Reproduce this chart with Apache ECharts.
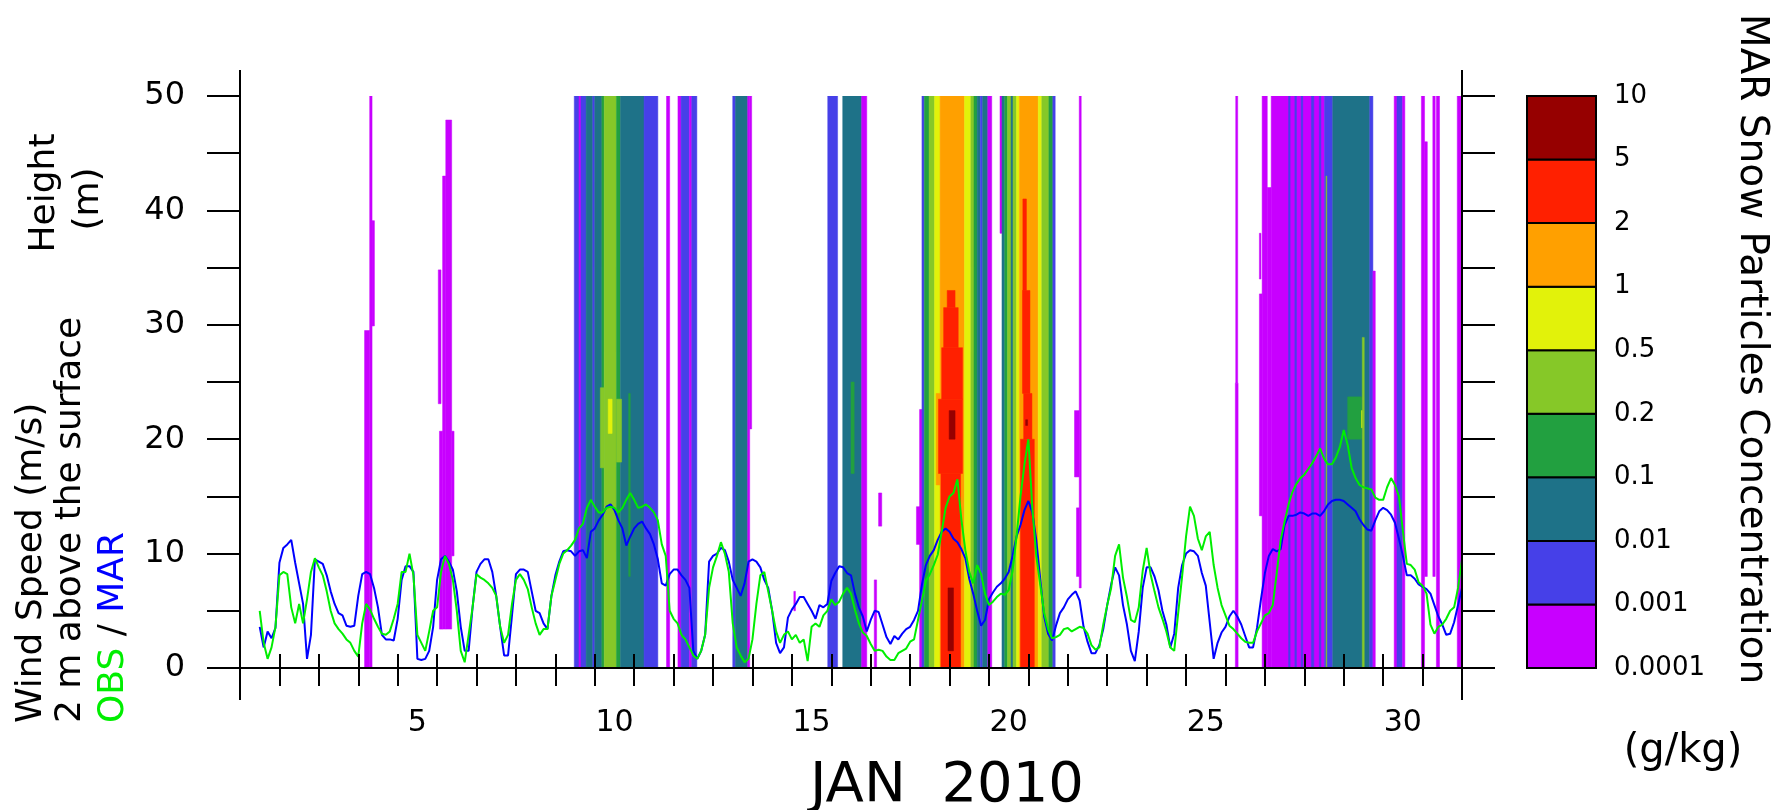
<!DOCTYPE html>
<html><head><meta charset="utf-8">
<script src="https://cdn.jsdelivr.net/npm/echarts@6/dist/echarts.min.js"></script>
<style>html,body{margin:0;padding:0;background:#fff}#c{width:1784px;height:810px}</style>
</head><body><div id="c"></div>
<script>
// ================= DATA =================
const dayCategories = ['1','2','3','4','5','6','7','8','9','10','11','12','13','14','15','16','17','18','19','20','21','22','23','24','25','26','27','28','29','30','31'];
const levelLabels = ['0.0001','0.001','0.01','0.1','0.2','0.5','1','2','5','10'];
// snow concentration cells: [dayStart, dayEnd, heightBottom, heightTop, levelIndex]
const snowCells = [
  [4.16,4.29,0,29.5,0],[4.29,4.35,0,50,0],[4.35,4.41,29.9,39.1,0],
  [6.03,6.10,23.1,34.8,0],[6.06,6.14,3.4,20.7,0],[6.14,6.22,3.4,43.0,0],[6.22,6.37,3.4,47.9,0],[6.37,6.43,9.8,20.7,0],
  [9.48,9.60,0,50,1],[9.60,9.65,0,50,0],[9.65,9.78,0,50,1],[9.78,9.95,0,50,2],[9.95,10.00,0,50,1],[10.00,10.18,0,50,2],
  [10.18,10.24,0,50,3],[10.24,10.55,0,50,4],[10.55,10.65,0,50,3],[10.65,11.25,0,50,2],[11.25,11.60,0,50,1],
  [10.14,10.24,17.5,24.5,4],[10.55,10.68,18,23.5,4],[10.34,10.44,20.5,23.5,5],[10.86,10.90,8,24,3],
  [11.82,11.90,0,50,0],[12.11,12.19,0,50,0],[12.19,12.40,0,50,1],[12.40,12.46,0,50,0],[12.46,12.59,0,50,1],
  [13.50,13.57,0,50,1],[13.57,13.88,0,50,2],[13.88,13.93,0,50,0],[13.93,13.98,20.9,50,0],[15.05,15.09,5.0,6.7,0],
  [15.91,16.16,0,50,1],[16.29,16.77,0,50,2],[16.50,16.58,17,25,3],[16.77,16.90,0,50,0],[17.09,17.15,0,7.7,0],[17.20,17.28,12.4,15.3,0],
  [18.16,18.30,10.8,14.1,0],[18.24,18.30,0,22.6,0],[18.30,18.36,0,50,1],[18.36,18.48,0,50,3],[18.48,18.62,0,50,4],
  [18.62,18.76,0,50,5],[18.76,19.38,0,50,6],[19.38,19.54,0,50,5],[19.54,19.62,0,50,4],[19.62,19.70,0,50,3],
  [19.70,19.78,0,50,2],[19.78,19.84,0,50,1],[19.84,19.97,0,50,2],[19.97,20.07,0,50,0],
  [18.66,18.76,16,24,6],[18.72,19.33,17,23.5,7],[18.78,19.28,0,17,7],[18.80,19.33,23.5,28,7],[18.85,19.22,28,31.5,7],
  [18.94,19.14,31.5,33,7],[18.99,19.14,20,22.5,8],[18.96,19.10,1.5,7,8],
  [20.28,20.36,38,50,0],[20.33,20.40,0,50,2],[20.40,20.47,0,50,3],[20.47,20.56,0,50,4],[20.56,20.61,0,50,2],
  [20.61,20.70,0,50,4],[20.70,20.77,0,50,5],[20.77,21.25,0,50,6],[21.25,21.34,0,50,5],[21.34,21.52,0,50,4],
  [21.52,21.62,0,50,3],[21.62,21.68,0,50,1],
  [20.80,21.15,0,20,7],[20.88,21.09,20,24,7],[20.85,21.04,24,33,7],[20.86,20.95,33,41,7],[20.93,20.98,21.2,21.7,8],
  [22.29,22.34,7,50,0],[22.17,22.29,16.7,22.5,0],[22.22,22.29,8,14,0],
  [26.25,26.32,0,24.9,0],[26.26,26.31,24.9,50,0],
  [26.86,26.93,13.3,32.7,0],[26.86,26.90,34,38,0],[26.93,27.06,0,50,0],[27.06,27.16,0,42,0],[27.16,28.51,0,50,0],
  [27.60,27.64,0,50,1],[27.76,27.80,0,50,1],[27.92,27.96,0,50,1],[28.18,28.24,0,50,1],[28.38,28.42,0,50,1],
  [28.51,28.72,0,50,1],[28.72,29.66,0,50,2],[28.55,28.57,0,43,4],[29.10,29.45,20,23.7,3],[29.45,29.48,21,22.5,5],
  [29.47,29.52,0,28.9,4],[29.66,29.74,0,50,1],[29.74,29.80,0,34.7,0],
  [30.28,30.35,0,50,0],[30.35,30.49,0,50,1],[30.49,30.55,0,50,0],
  [30.97,31.05,0,50,0],[31.05,31.12,8,46,0],[31.26,31.32,8,50,0],[31.35,31.43,0,50,0],[31.88,32.00,0,50,0]
];
// wind speed (m/s), sampled every 0.1 day from Jan 1.5
const windStart = 1.5;
const windStep = 0.1;
const marSpeed = [
  3.6,1.8,3.2,2.6,3.5,
  9.2,10.5,10.8,11.2,9.2,7.4,5.6,0.8,2.9,9.5,9.3,9.1,8.1,6.7,5.6,4.8,4.6,3.7,3.6,3.7,6.3,8.2,8.4,8.2,7.0,5.3,2.9,2.5,2.5,2.4,4.3,7.7,8.9,8.9,8.4,
  0.8,0.7,0.8,1.5,3.6,7.7,9.5,9.8,9.3,8.6,6.7,3.6,1.5,1.5,5.3,8.4,9.1,9.5,9.5,8.4,6.3,3.6,1.1,1.1,4.6,8.2,8.6,8.6,8.4,6.7,5.0,4.8,3.9,3.4,
  6.3,8.1,9.3,10.2,10.3,10.2,9.8,10.2,10.3,9.6,11.9,12.2,12.9,13.4,14.1,14.3,13.8,12.9,12.2,10.7,11.5,12.2,12.6,12.8,12.2,11.7,10.8,9.5,7.4,7.2,8.2,8.6,8.6,8.1,7.7,
  7.0,1.5,0.8,1.5,2.9,9.3,9.8,10.0,10.5,10.3,9.3,7.7,7.0,6.3,7.4,9.3,9.5,9.3,8.8,7.7,7.0,5.0,2.2,1.3,1.8,4.4,5.1,5.6,6.2,6.2,5.6,5.0,4.3,5.5,
  5.3,5.6,
  7.6,8.3,8.9,8.8,8.3,8.1,6.5,5.3,4.5,3.2,
  4.2,5.0,4.9,3.8,2.7,2.1,2.8,2.5,3.0,3.4,
  3.6,4.2,5.0,7.3,9.0,9.8,10.3,11.2,11.9,12.2,
  11.9,11.3,11.0,10.4,9.6,7.8,6.5,5.0,3.7,4.2,
  6.0,6.6,7.1,7.4,7.8,8.4,9.8,11.5,12.5,13.8,
  14.6,13.6,11.2,7.8,4.5,3.0,2.4,3.7,4.8,5.3,
  6.0,6.4,6.7,5.9,3.6,2.3,1.3,1.3,2.0,3.4,
  5.5,7.3,8.8,8.1,5.5,3.8,1.5,0.6,3.2,7.0,
  8.8,8.8,8.0,6.8,5.0,3.8,1.8,3.0,7.0,9.0,
  10.0,10.3,10.2,9.8,8.3,7.2,4.0,0.8,2.2,3.1,
  3.6,4.5,5.0,4.5,3.8,2.8,1.8,1.8,3.5,6.0,
  8.3,9.8,10.4,10.2,10.4,12.5,13.3,13.3,13.4,13.6,
  13.5,13.3,13.5,13.5,13.3,13.7,14.3,14.6,14.7,14.7,
  14.6,14.3,14.0,13.7,13.0,12.5,12.1,12.0,12.9,13.7,
  14.0,13.8,13.4,12.7,11.3,9.8,8.1,8.1,7.8,7.3,
  7.1,6.9,6.5,5.5,4.5,3.8,2.9,3.0,4.0,5.5,
  7.0
];
const obsSpeed = [
  5.0,2.2,0.8,1.8,3.6,
  8.1,8.4,8.2,5.3,3.9,5.6,3.9,6.0,8.4,9.6,8.8,8.1,6.7,5.0,3.9,3.4,3.0,2.5,2.2,1.5,1.0,3.9,5.6,5.1,4.3,3.6,3.0,2.9,3.2,4.3,5.6,8.4,8.4,10.0,8.1,
  2.9,2.2,1.5,3.2,5.0,5.3,8.4,9.8,9.1,7.7,5.0,1.5,0.5,2.9,5.3,8.2,7.9,7.7,7.4,7.0,6.3,3.6,2.2,2.9,5.6,7.7,8.2,7.7,6.9,5.3,3.9,2.9,3.4,3.4,
  6.3,7.7,9.1,10.0,10.3,10.7,11.2,12.2,12.6,14.0,14.7,14.1,13.6,13.6,14.0,14.1,14.0,13.6,14.0,14.7,15.3,14.7,14.0,14.1,14.3,14.0,13.6,12.9,10.8,9.8,5.0,4.3,3.9,2.9,2.5,
  1.8,1.1,0.8,1.5,2.9,7.0,8.8,9.8,11.0,10.0,8.4,3.9,1.8,1.1,0.5,0.8,2.5,5.6,8.1,8.4,6.7,5.0,3.2,2.2,2.9,3.2,2.5,2.9,2.2,2.5,0.6,3.6,3.9,3.6,
  4.6,5.0,
  6.0,5.5,5.8,6.5,7.0,6.5,5.1,3.9,3.1,2.8,
  2.1,1.5,1.6,1.5,1.0,0.7,0.7,1.3,1.5,1.7,
  2.3,2.5,4.2,5.9,7.6,8.2,9.0,9.9,11.9,14.0,
  15.0,15.3,16.5,13.0,10.3,8.4,7.4,9.0,8.2,6.5,
  5.5,5.8,6.2,6.5,6.4,6.8,8.5,11.5,15.0,17.8,
  20.0,14.0,9.8,7.3,4.8,3.4,2.6,2.7,2.9,3.4,
  3.5,3.2,3.4,3.6,3.5,3.0,2.0,1.6,1.8,3.8,
  5.5,7.0,9.8,10.8,7.9,6.2,4.2,4.0,5.3,8.5,
  10.5,8.2,6.7,5.3,4.3,3.2,1.8,1.5,4.8,8.0,
  11.5,14.1,13.3,11.3,10.3,11.5,11.9,9.0,7.0,5.5,
  4.6,3.7,3.4,3.0,2.6,2.3,2.2,2.2,3.2,3.9,
  4.6,4.8,5.5,8.3,11.2,12.8,14.3,15.4,16.1,16.6,
  16.9,17.4,17.9,18.5,19.2,18.3,17.8,17.8,18.4,19.3,
  20.8,19.5,17.5,16.6,16.0,15.8,15.7,15.6,14.9,14.7,
  14.7,15.8,16.6,16.0,15.0,12.0,9.1,9.0,8.6,7.5,
  7.2,6.5,3.8,3.0,3.6,3.8,4.3,5.0,5.3,7.0,
  9.5
];

// ================= STYLE / LAYOUT =================
const LEVEL_COLORS = ['#c800ff','#4640e8','#1e7288','#22a040','#86c828','#e2f20a','#ffa000','#ff2000','#960000'];
const FONT = 'DejaVu Sans';
const G = {left: 240, top: 96, width: 1222, height: 572};
const CB = {left: 1527, top: 96, width: 69, height: 572};

const marData = marSpeed.map((v, i) => [windStart + i * windStep, v]);
const obsData = obsSpeed.map((v, i) => [windStart + i * windStep, v]);
const cbData = levelLabels.slice(0, -1).map((_, i) => [i, i + 1, i]);

function cellItem(params, api) {
  const a = api.coord([api.value(0), api.value(3)]);
  const b = api.coord([api.value(1), api.value(2)]);
  const c = LEVEL_COLORS[api.value(4)];
  return {type: 'rect', shape: {x: a[0], y: a[1], width: b[0] - a[0], height: b[1] - a[1]},
          style: {fill: c, stroke: c, lineWidth: 0.5}};
}
function cbItem(params, api) {
  const a = api.coord([0, api.value(1)]);
  const b = api.coord([1, api.value(0)]);
  return {type: 'rect', shape: {x: a[0], y: a[1], width: b[0] - a[0], height: b[1] - a[1]},
          style: {fill: LEVEL_COLORS[api.value(2)], stroke: '#000', lineWidth: 2}};
}

const chart = echarts.init(document.getElementById('c'), null, {renderer: 'canvas'});
const axisLine = {show: true, lineStyle: {color: '#000', width: 2}};
const tickStyle = {color: '#000', width: 2};

const option = {
  animation: false,
  backgroundColor: '#fff',
  grid: [
    Object.assign({containLabel: false, outerBoundsMode: 'none'}, G),
    Object.assign({containLabel: false, outerBoundsMode: 'none'}, CB)
  ],
  xAxis: [
    {type: 'category', gridIndex: 0, data: dayCategories, position: 'bottom', boundaryGap: true, z: 10,
     axisLine: axisLine, axisTick: {show: true, interval: 0, length: 18, inside: false, lineStyle: tickStyle},
     axisLabel: {interval: 0, margin: 40, fontSize: 30, fontFamily: FONT, color: '#000',
                 formatter: v => (Number(v) % 5 === 0 ? v : '')},
     splitLine: {show: false}},
    {type: 'category', gridIndex: 0, data: dayCategories, position: 'top', boundaryGap: true, z: 10,
     axisLine: axisLine, axisTick: {show: true, interval: 0, length: 14, lineStyle: tickStyle},
     axisLabel: {show: false}, splitLine: {show: false}},
    {type: 'value', gridIndex: 0, min: 1, max: 32, show: false, splitLine: {show: false}},
    {type: 'value', gridIndex: 1, min: 0, max: 1, show: false, splitLine: {show: false}}
  ],
  yAxis: [
    {type: 'value', gridIndex: 0, min: 0, max: 50, interval: 5, position: 'left', z: 10,
     axisLine: axisLine, axisTick: {show: true, length: 33, lineStyle: tickStyle},
     axisLabel: {margin: 55, fontSize: 32, fontFamily: FONT, color: '#000', showMinLabel: true, showMaxLabel: true,
                 formatter: v => (v % 10 === 0 ? String(v) : '')},
     splitLine: {show: false}},
    {type: 'value', gridIndex: 0, min: 0, max: 50, interval: 5, position: 'right', z: 10,
     axisLine: axisLine, axisTick: {show: true, length: 33, lineStyle: tickStyle},
     axisLabel: {show: false}, splitLine: {show: false}},
    {type: 'value', gridIndex: 1, min: 0, max: 9, interval: 1, position: 'right',
     axisLine: {show: false}, axisTick: {show: false}, splitLine: {show: false},
     axisLabel: {margin: 18, fontSize: 26, fontFamily: FONT, color: '#000', align: 'left',
                 showMinLabel: true, showMaxLabel: true, formatter: v => levelLabels[v]}}
  ],
  series: [
    {type: 'custom', name: 'snow', xAxisIndex: 2, yAxisIndex: 0, renderItem: cellItem,
     encode: {x: [0, 1], y: [2, 3]}, data: snowCells, z: 1, clip: true, silent: true},
    {type: 'line', name: 'MAR', xAxisIndex: 2, yAxisIndex: 0, data: marData, showSymbol: false,
     lineStyle: {color: '#0000ff', width: 2}, itemStyle: {color: '#0000ff'}, z: 3, clip: true},
    {type: 'line', name: 'OBS', xAxisIndex: 2, yAxisIndex: 0, data: obsData, showSymbol: false,
     lineStyle: {color: '#00ee00', width: 2}, itemStyle: {color: '#00ee00'}, z: 4, clip: true},
    {type: 'custom', name: 'colorbar', xAxisIndex: 3, yAxisIndex: 2, renderItem: cbItem,
     encode: {x: [], y: [0, 1]}, data: cbData, z: 2, silent: true}
  ],
  graphic: [
    {type: 'line', z: 100, shape: {x1: G.left, y1: 70, x2: G.left, y2: 700}, style: {stroke: '#000', lineWidth: 2}},
    {type: 'line', z: 100, shape: {x1: G.left + G.width, y1: 70, x2: G.left + G.width, y2: 700}, style: {stroke: '#000', lineWidth: 2}},
    {type: 'text', x: 32, y: 723, rotation: Math.PI / 2,
     style: {text: 'Wind Speed (m/s)', fontSize: 36, fontFamily: FONT, fill: '#000', align: 'left', verticalAlign: 'middle', textAlign: 'left', textVerticalAlign: 'middle'}},
    {type: 'text', x: 71, y: 723, rotation: Math.PI / 2,
     style: {text: '2 m above the surface', fontSize: 36, fontFamily: FONT, fill: '#000', align: 'left', verticalAlign: 'middle', textAlign: 'left', textVerticalAlign: 'middle'}},
    {type: 'text', x: 114, y: 723, rotation: Math.PI / 2,
     style: {text: '{g|OBS} / {b|MAR}', fontSize: 36, fontFamily: FONT, fill: '#000', align: 'left', verticalAlign: 'middle', textAlign: 'left', textVerticalAlign: 'middle',
             rich: {g: {fill: '#00ee00', fontSize: 36, fontFamily: FONT}, b: {fill: '#0000ff', fontSize: 36, fontFamily: FONT}}}},
    {type: 'text', x: 45, y: 193, rotation: Math.PI / 2,
     style: {text: 'Height', fontSize: 36, fontFamily: FONT, fill: '#000', align: 'center', verticalAlign: 'middle', textAlign: 'center', textVerticalAlign: 'middle'}},
    {type: 'text', x: 89, y: 199, rotation: Math.PI / 2,
     style: {text: '(m)', fontSize: 36, fontFamily: FONT, fill: '#000', align: 'center', verticalAlign: 'middle', textAlign: 'center', textVerticalAlign: 'middle'}},
    {type: 'text', x: 1751, y: 14, rotation: -Math.PI / 2,
     style: {text: 'MAR Snow Particles Concentration', fontSize: 39, fontFamily: FONT, fill: '#000', align: 'left', verticalAlign: 'middle', textAlign: 'left', textVerticalAlign: 'middle'}},
    {type: 'text', x: 1683, y: 752,
     style: {text: '(g/kg)', fontSize: 40, fontFamily: FONT, fill: '#000', align: 'center', verticalAlign: 'middle', textAlign: 'center', textVerticalAlign: 'middle'}},
    {type: 'text', x: 947, y: 786,
     style: {text: 'JAN  2010', fontSize: 56, fontFamily: FONT, fill: '#000', align: 'center', verticalAlign: 'middle', textAlign: 'center', textVerticalAlign: 'middle'}}
  ]
};
chart.setOption(option);
</script>
</body></html>
